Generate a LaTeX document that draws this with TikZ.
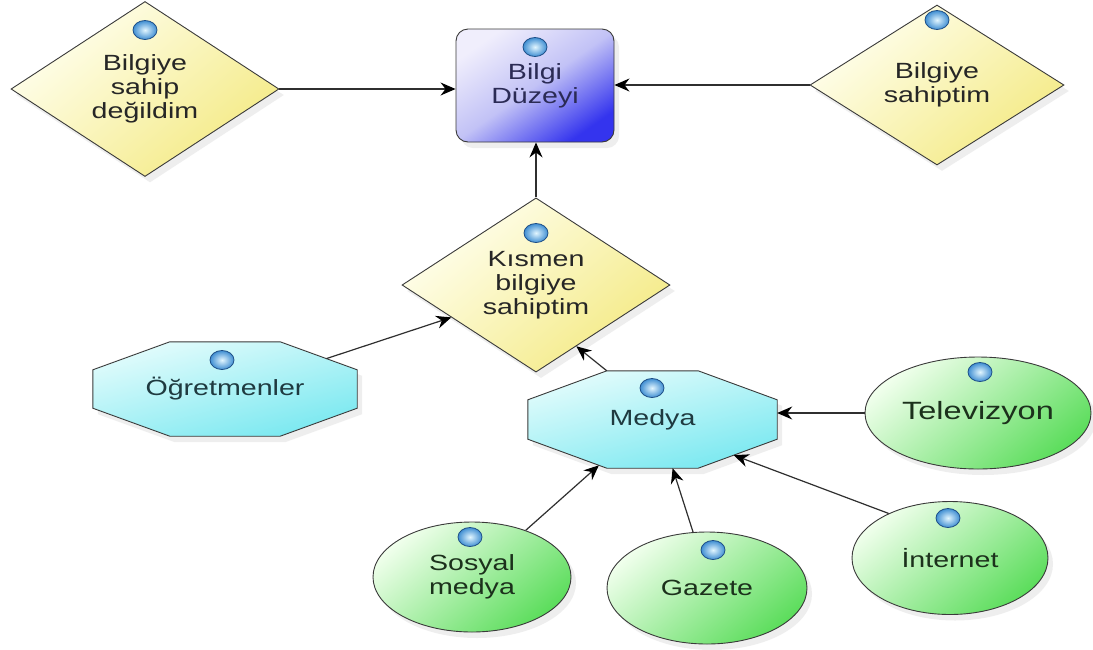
\documentclass[tikz,border=0pt]{standalone}
\usepackage{fontspec}
\setmainfont{Liberation Sans}[FakeStretch=1.3]
\usetikzlibrary{shapes.geometric,arrows.meta,calc,shadows,backgrounds}

\definecolor{linegray}{HTML}{2F2F2F}
\definecolor{outlinegray}{HTML}{3A3A3A}
\definecolor{inkgray}{HTML}{262626}
\definecolor{inknavy}{HTML}{2B2B55}
\definecolor{inkteal}{HTML}{1F3A40}
\definecolor{inkgreen}{HTML}{1C311C}
\definecolor{yellowlight}{HTML}{FFFFF0}
\definecolor{yellowdark}{HTML}{F4EA84}
\definecolor{violetlight}{HTML}{F0EEFC}
\definecolor{violetmid}{HTML}{C2C2F6}
\definecolor{violetdark}{HTML}{3434EE}
\definecolor{cyanlight}{HTML}{E4FCFC}
\definecolor{cyandark}{HTML}{78E8F0}
\definecolor{greenlight}{HTML}{F0FFEC}
\definecolor{greendark}{HTML}{5CDD5C}
\definecolor{ballcore}{HTML}{E2F6FF}
\definecolor{ballblue}{HTML}{3F8ED2}
\definecolor{ballrim}{HTML}{1E4E86}

% Octagon around a rectangular hub node #1, with corner cuts #2 (horizontal) and #3 (vertical)
\newcommand{\octagonframe}[3]{%
  \coordinate (#1-1) at ($(#1.north west)+(#2,0)$);
  \coordinate (#1-2) at ($(#1.north east)+(-#2,0)$);
  \coordinate (#1-3) at ($(#1.north east)+(0,#3)$);
  \coordinate (#1-4) at ($(#1.south east)+(0,-#3)$);
  \coordinate (#1-5) at ($(#1.south east)+(-#2,0)$);
  \coordinate (#1-6) at ($(#1.south west)+(#2,0)$);
  \coordinate (#1-7) at ($(#1.south west)+(0,-#3)$);
  \coordinate (#1-8) at ($(#1.north west)+(0,#3)$);
  \begin{scope}[on background layer]
    \path[octagonshape] (#1-1) -- (#1-2) -- (#1-3) -- (#1-4) -- (#1-5)
      -- (#1-6) -- (#1-7) -- (#1-8) -- cycle;
  \end{scope}%
}

\begin{document}
\begin{tikzpicture}[x=1pt, y=-1pt,
  every node/.style={font=\fontsize{22}{24}\selectfont, align=center},
  softshadow/.style={drop shadow={opacity=0.13, shadow xshift=5pt, shadow yshift=-6pt}},
  outline/.style={draw=outlinegray, line width=0.9pt},
  decision/.style={diamond, outline, softshadow, inner sep=0pt, text=inkgray,
    top color=yellowlight, bottom color=yellowdark, shading angle=40},
  levelbox/.style={rectangle, rounded corners=12pt, outline, softshadow, inner sep=0pt,
    text=inknavy, top color=violetlight, bottom color=violetdark,
    middle color=violetmid, shading angle=35},
  octagonhub/.style={rectangle, inner sep=0pt, text=inkteal},
  octagonshape/.style={outline, softshadow, top color=cyanlight, bottom color=cyandark,
    shading angle=15},
  source/.style={ellipse, outline, softshadow, inner sep=0pt, text=inkgreen,
    top color=greenlight, bottom color=greendark, shading angle=40},
  marker/.style={draw=ballrim, line width=0.8pt, shading=radial,
    inner color=ballcore, outer color=ballblue},
  link/.style={draw=linegray, line width=1.2pt,
    -{Stealth[length=15pt, width=13pt, inset=5pt, color=black]}}
]
\useasboundingbox (0,0) rectangle (1093,649);
\begin{scope}[on background layer]
  \fill[white] (0,0) rectangle (1093,649);
\end{scope}

% answer levels
\node[decision, minimum width=268pt, minimum height=148pt] (deg) at (145,89)
  {Bilgiye\\sahip\\değildim};
\node[levelbox, minimum width=158pt, minimum height=113pt] (dz) at (535,85.5)
  {Bilgi\\Düzeyi};
\node[decision, minimum width=254pt, minimum height=160pt] (sah) at (937,85)
  {Bilgiye\\sahiptim};
\node[decision, minimum width=268pt, minimum height=134pt] (kis) at (536,285)
  {Kısmen\\bilgiye\\sahiptim};

% information sources
\node[octagonhub, minimum width=264pt, minimum height=94pt] (ogr) at (225,389)
  {Öğretmenler};
\octagonframe{ogr}{77}{28}
\node[octagonhub, minimum width=249pt, minimum height=97pt] (med) at (652.5,419.5)
  {Medya};
\octagonframe{med}{79}{29}

\node[source, minimum width=226pt, minimum height=112pt,
  font=\fontsize{25}{27}\selectfont] (tv) at (978,413) {Televizyon};
\node[source, minimum width=198pt, minimum height=110pt] (sos) at (472,577)
  {Sosyal\\medya};
\node[source, minimum width=200pt, minimum height=112pt] (gaz) at (707,588) {Gazete};
\node[source, minimum width=196pt, minimum height=113pt] (int) at (950,558) {İnternet};

% connectors
\draw[link] (deg.east) -- (deg.east -| dz.west);
\draw[link] (sah.west) -- (sah.west -| dz.east);
\draw[link] (kis.north) -- (kis.north |- dz.south);
\draw[link] ($(ogr-2)!0.6!(ogr-3)$) -- ($(kis.west)!0.37!(kis.south)$);
\draw[link] (med-1) -- ($(kis.south)!0.3!(kis.east)$);
\draw[link] (tv.west) -- (tv.west -| med.east);
\draw[link] (sos.41) -- ($(med-6)!0.1!(med-7)$);
\draw[link] (gaz.104) -- ($(med-5)!0.28!(med-6)$);
\draw[link] (int.144) -- ($(med-4)!0.55!(med-5)$);

% blue markers on top of each shape
\foreach \px/\py in {145/30, 535/47, 937/20, 536/233, 222/360, 652/388,
                     980/372, 470/537, 713/550, 948/518}
  \path[marker] (\px,\py) ellipse [x radius=12, y radius=9.5];
\end{tikzpicture}
\end{document}
